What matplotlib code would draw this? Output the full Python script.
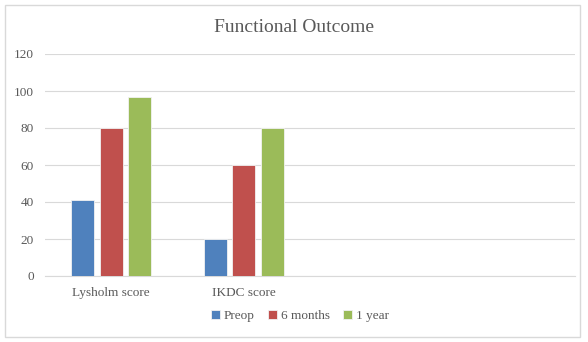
import numpy as np
import matplotlib.pyplot as plt
from matplotlib.patches import Rectangle

categories = ['Lysholm score', 'IKDC score', '', '']
series_names = ['Preop', '6 months', '1 year']
preop = [41, 20, None, None]
six_months = [80, 60, None, None]
one_year = [97, 80, None, None]
colors = ['#4F81BD', '#C0504D', '#9BBB59']

plt.rcParams['font.family'] = ['Liberation Serif', 'DejaVu Serif']
text_color = '#595959'

fig = plt.figure(figsize=(5.88, 3.42), dpi=100)
ax = fig.add_axes([45 / 588, 1 - 276 / 342, 530 / 588, 222 / 342])

x = np.arange(len(categories))
width = 0.175
offsets = [-0.215, 0, 0.215]
for vals, name, c, off in zip([preop, six_months, one_year], series_names, colors, offsets):
    v = [np.nan if val is None else val for val in vals]
    ax.bar(x + off, v, width, color=c, edgecolor='#f2f2f2', linewidth=0.6, label=name, zorder=3)

ax.set_xlim(-0.5, len(categories) - 0.5)
ax.set_ylim(0, 120)
ax.set_yticks(range(0, 121, 20))
ax.set_xticks(x)
ax.set_xticklabels(categories)
ax.grid(axis='y', color='#d9d9d9', linewidth=0.8, zorder=0)
for s in ['top', 'right', 'left']:
    ax.spines[s].set_visible(False)
ax.spines['bottom'].set_color('#d9d9d9')
ax.tick_params(axis='both', length=0, colors=text_color, labelsize=9.5)
ax.tick_params(axis='y', pad=8)
ax.tick_params(axis='x', pad=8)

fig.text(0.5, 1 - 27 / 342, 'Functional Outcome', ha='center', va='center',
         fontsize=14, color=text_color)

fig.legend(loc='center', bbox_to_anchor=(300 / 588, 1 - 316 / 342), ncol=3,
           frameon=False, fontsize=9.5, handlelength=0.7, handleheight=0.7,
           handletextpad=0.3, columnspacing=1.0, labelcolor=text_color)

fig.patches.append(Rectangle((5 / 588, 5 / 342), 575 / 588, 332 / 342,
                             transform=fig.transFigure, fill=False,
                             edgecolor='#d9d9d9', linewidth=1))

fig.savefig('out.png', dpi=100)
